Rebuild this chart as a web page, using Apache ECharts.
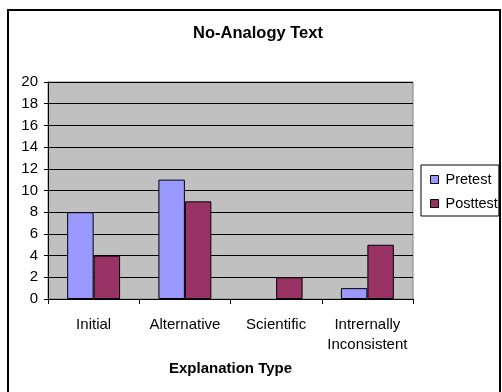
<!DOCTYPE html>
<html>
<head>
<meta charset="utf-8">
<style>
  html, body { margin: 0; padding: 0; background: #fff; }
  #chart { width: 502px; height: 392px; }
</style>
<script src="https://cdn.jsdelivr.net/npm/echarts@6/dist/echarts.min.js"></script>
</head>
<body>
<div id="chart"></div>
<script>
// Explanation types on the category axis
const categories = ['Initial', 'Alternative', 'Scientific', 'Intrernally\nInconsistent'];
// Counts per explanation type
const pretest = [8, 11, 0, 1];
const posttest = [4, 9, 2, 5];
// Value axis range
const yMin = 0, yMax = 20, yStep = 2;

const FONT = '"Liberation Sans", Arial, sans-serif';

// Zero-height bars get no outline so they leave no stray line on the axis
const barData = (values) => values.map(v => ({
  value: v,
  itemStyle: v === 0 ? { borderWidth: 0, opacity: 0 } : {}
}));

const chart = echarts.init(document.getElementById('chart'), null, { renderer: 'canvas' });

chart.setOption({
  animation: false,
  backgroundColor: '#ffffff',
  textStyle: { fontFamily: FONT, color: '#000' },
  graphic: [
    {
      type: 'rect',
      shape: { x: 8, y: 10, width: 492, height: 400 },
      style: { fill: 'none', stroke: '#000', lineWidth: 2 },
      silent: true, z: 100
    },
    {
      type: 'text',
      x: 258, y: 33,
      style: {
        text: 'No-Analogy Text', fontFamily: FONT, fontSize: 16.5, fontWeight: 'bold',
        fill: '#000', align: 'center', verticalAlign: 'middle'
      }
    }
  ],
  grid: {
    left: 48, top: 82, width: 365, height: 217,
    show: true, backgroundColor: '#C0C0C0', borderColor: '#808080', borderWidth: 1
  },
  legend: {
    orient: 'vertical',
    left: 421, top: 165,
    padding: [7, 1, 5, 9],
    itemGap: 9,
    itemWidth: 8, itemHeight: 8,
    icon: 'rect',
    borderColor: '#000', borderWidth: 1,
    backgroundColor: '#fff',
    itemStyle: { borderColor: '#000', borderWidth: 1 },
    textStyle: { fontFamily: FONT, fontSize: 14.5, color: '#000', lineHeight: 15, padding: [0, 0, 0, 2] },
    data: ['Pretest', 'Posttest']
  },
  xAxis: {
    type: 'category',
    data: categories,
    name: 'Explanation Type',
    nameLocation: 'middle',
    nameGap: 70,
    nameTextStyle: { fontFamily: FONT, fontSize: 15, fontWeight: 'bold', color: '#000', verticalAlign: 'middle' },
    axisLine: { lineStyle: { color: '#000', width: 1 } },
    axisTick: { show: true, length: 5, lineStyle: { color: '#000' } },
    axisLabel: { fontFamily: FONT, fontSize: 15, color: '#000', margin: 16, lineHeight: 20, interval: 0 },
    splitLine: { show: false }
  },
  yAxis: {
    type: 'value',
    min: yMin, max: yMax, interval: yStep,
    axisLine: { show: true, lineStyle: { color: '#000', width: 1 } },
    axisTick: { show: true, length: 4, lineStyle: { color: '#000' } },
    axisLabel: { fontFamily: FONT, fontSize: 15, color: '#000', margin: 10 },
    splitLine: { show: true, lineStyle: { color: '#000', width: 1 } }
  },
  series: [
    {
      name: 'Pretest', type: 'bar', data: barData(pretest),
      barGap: '0%', barCategoryGap: '42%',
      itemStyle: { color: '#9999FF', borderColor: '#000', borderWidth: 1 }
    },
    {
      name: 'Posttest', type: 'bar', data: barData(posttest),
      barGap: '0%', barCategoryGap: '42%',
      itemStyle: { color: '#993366', borderColor: '#000', borderWidth: 1 }
    }
  ]
});
</script>
</body>
</html>
